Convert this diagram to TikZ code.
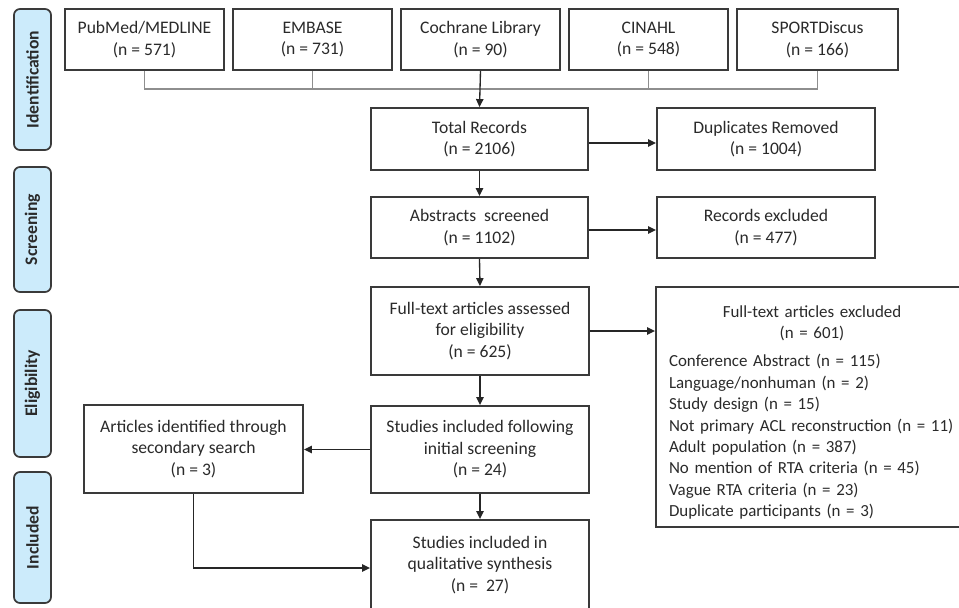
\documentclass[tikz,border=0pt]{standalone}
\usepackage{fontspec}
\setmainfont{Carlito}
\usetikzlibrary{arrows.meta,calc}
\definecolor{bordc}{HTML}{3A3A3A}
\definecolor{linec}{HTML}{8E8E8E}
\definecolor{phasefill}{HTML}{CCEBFB}
\definecolor{txtc}{HTML}{2A2A2A}
\begin{document}
\begin{tikzpicture}[x=0.75pt,y=-0.75pt,
  font=\fontsize{13.2}{16.1}\selectfont, text=txtc,
  box/.style={draw=bordc, line width=1.4pt, fill=white, align=center, inner sep=0pt},
  sz/.style 2 args={minimum width=#1*0.75pt, minimum height=#2*0.75pt},
  phase/.style={draw=bordc, line width=1.3pt, fill=phasefill, rounded corners=4.5pt,
    inner sep=0pt, rotate=90, font=\fontsize{13.2}{16}\selectfont\bfseries},
  arr/.style={draw=black!85, line width=1pt, -{Triangle[length=6pt,width=5.5pt]}},
  link/.style={draw=linec, line width=1pt}]
\clip (0,0) rectangle (959,607);
\fill[white] (0,0) rectangle (959,607);

% phase labels
\node[phase, sz={141}{37}] (ph1) at (32.5,79.5) {Identification};
\node[phase, sz={125}{37}] (ph2) at (32.5,229.5) {Screening};
\node[phase, sz={147}{37}] (ph3) at (32.5,383.5) {Eligibility};
\node[phase, sz={131}{37}] (ph4) at (32.5,537.5) {Included};

% sources
\node[box, sz={159}{61}] (pub)  at (144.5,39.5) {PubMed/MEDLINE\\(n = 571)};
\node[box, sz={159}{61}] (emb)  at (312.5,39.5) {EMBASE\\(n = 731)};
\node[box, sz={159}{61}] (coch) at (480.5,39.5) {Cochrane Library\\(n = 90)};
\node[box, sz={159}{61}] (cin)  at (648.5,39.5) {CINAHL\\(n = 548)};
\node[box, sz={161}{61}] (spo)  at (817.5,39.5) {SPORTDiscus\\(n = 166)};

% main column
\node[box, sz={217}{62}] (total) at (479.5,139) {Total Records\\(n = 2106)};
\node[box, sz={218}{62}] (dup)   at (766,139) {Duplicates Removed\\(n = 1004)};
\node[box, sz={217}{61}] (abs)   at (479.5,227.5) {Abstracts\ \ screened\\(n = 1102)};
\node[box, sz={218}{61}] (recex) at (766,227.5) {Records excluded\\(n = 477)};
\node[box, sz={218}{88}] (full)  at (480,331) {Full-text articles assessed\\for eligibility\\(n = 625)};
\node[box, sz={312}{240}, align=left, text width=286*0.75pt, inner xsep=13*0.75pt,
      font=\fontsize{12.7}{16.1}\selectfont] (excl) at (812,407)
  {{\centering\rule{0pt}{17pt}Full-text articles excluded\\(n = 601)\par}\vspace{5pt}
   {\raggedright Conference Abstract (n = 115)\\
   Language/nonhuman (n = 2)\\
   Study design (n = 15)\\
   Not primary ACL reconstruction (n = 11)\\
   Adult population (n = 387)\\
   No mention of RTA criteria (n = 45)\\
   Vague RTA criteria (n = 23)\\
   Duplicate participants (n = 3)\par}};
\node[box, sz={218}{87}] (stud)  at (480,449.5) {Studies included following\\initial screening\\(n = 24)};
\node[box, sz={219}{88}] (sec)   at (193.5,449) {Articles identified through\\secondary search\\(n = 3)};
\node[box, sz={218}{90}] (final) at (480,565) {Studies included in\\qualitative synthesis\\(n =\ \ 27)};

% connectors
\coordinate (bus) at (0,89);
\draw[link] (pub.south) -- (pub.south |- bus) -- (spo.south |- bus) -- (spo.south);
\draw[link] (emb.south) -- (emb.south |- bus);
\draw[link] (cin.south) -- (cin.south |- bus);
\draw[arr] (coch.south) -- (total.north);
\coordinate (t1) at ($(total.east)+(0,4)$);
\draw[arr] (t1) -- (t1 -| dup.west);
\draw[arr] (total.south) -- (abs.north);
\coordinate (a1) at ($(abs.east)+(0,2.5)$);
\draw[arr] (a1) -- (a1 -| recex.west);
\draw[arr] (abs.south) -- (full.north);
\draw[arr] (full.east) -- (full.east -| excl.west);
\draw[arr] (full.south) -- (stud.north);
\draw[arr] (stud.west) -- (stud.west -| sec.east);
\draw[arr] (stud.south) -- (final.north);
\coordinate (f1) at ($(final.west)+(0,3)$);
\draw[arr] (sec.south) |- (f1);
\end{tikzpicture}
\end{document}
